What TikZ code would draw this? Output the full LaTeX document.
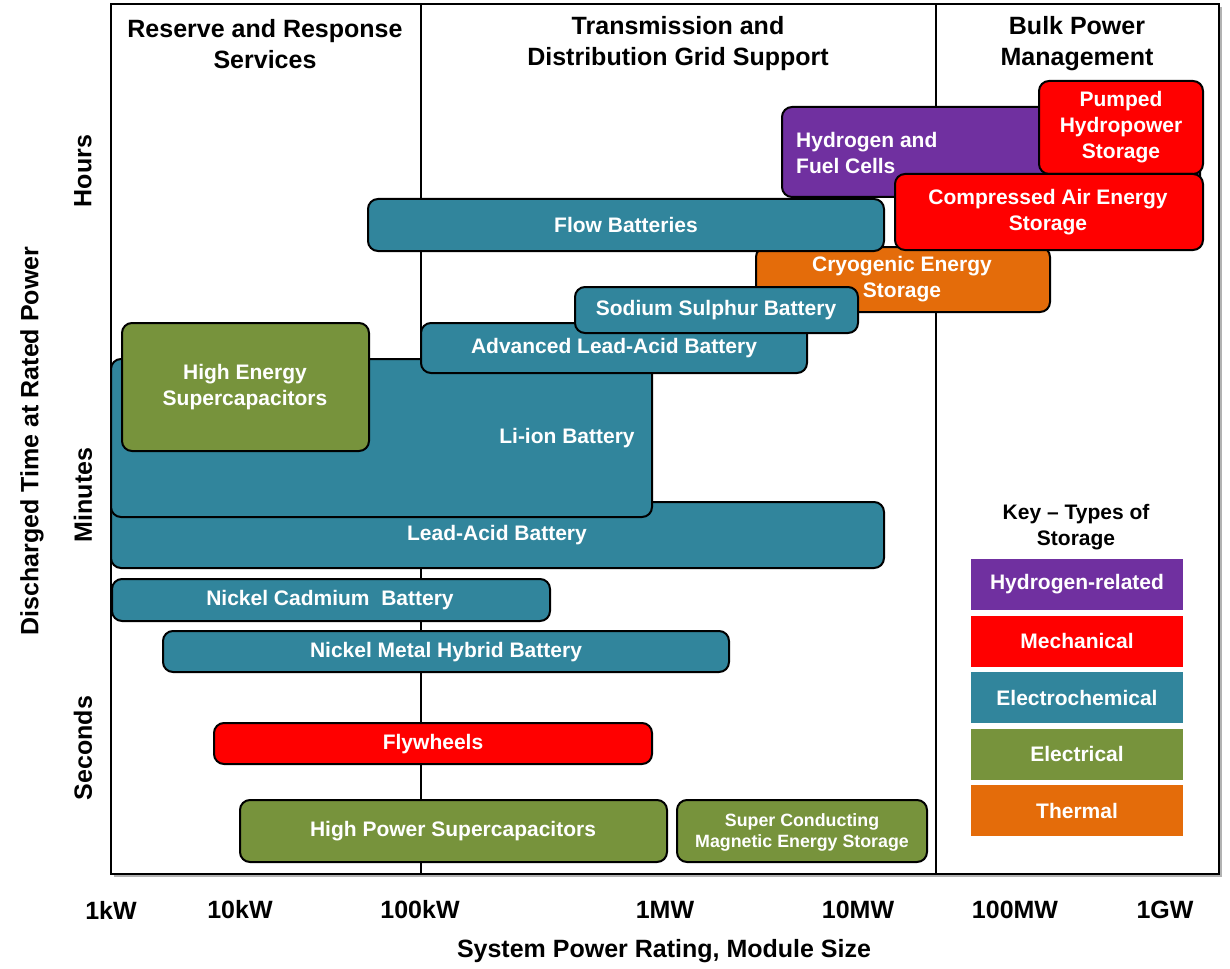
\documentclass[tikz,border=0pt]{standalone}
\usepackage{fontspec}
\setmainfont{Liberation Sans}
\definecolor{hydro}{HTML}{7030A0}
\definecolor{mech}{HTML}{FF0000}
\definecolor{echem}{HTML}{31859C}
\definecolor{elec}{HTML}{77933C}
\definecolor{therm}{HTML}{E46C0A}

\begin{document}
\begin{tikzpicture}[x=1pt,y=-1pt,
    stor/.style={draw=black, line width=2pt, rounded corners=10pt},
    lbl/.style={text=white, inner sep=0pt, align=center, font=\bfseries\fontsize{21}{26}\selectfont},
    head/.style={inner sep=0pt, align=center, font=\bfseries\fontsize{25}{31}\selectfont},
    keybox/.style={minimum width=212pt, minimum height=51pt, inner sep=0pt, text=white, font=\bfseries\fontsize{21}{26}\selectfont}]
    \useasboundingbox (0,0) rectangle (1230,968);
    % frame, shadow and dividers
    \draw[black!30, line width=2pt] (1221,7) -- (1221,876) -- (114,876);
    \draw[line width=2pt] (111,4) rectangle (1219,874);
    \draw[line width=2pt] (421,4) -- (421,874);
    \draw[line width=2pt] (936,4) -- (936,874);
    \node[head] (reserve) at (265,44) {Reserve and Response\\Services};
    \node[head] (grid) at (678,44) {Transmission and\\Distribution Grid Support};
    \node[head] (bulk) at (1077,44) {Bulk Power\\Management};
    % axes
    \foreach \x/\t [count=\i] in {111/1kW,240/10kW,420/100kW,665/1MW,858/10MW,1015/100MW,1165/1GW}
      \node[head] (tick\i) at (\x,910) {\t};
    \node[head] (xlabel) at (664,951) {System Power Rating, Module Size};
    \node[head, rotate=90] (ylabel) at (32,441) {Discharged Time at Rated Power};
    \node[head, rotate=90] (hours) at (83,171) {Hours};
    \node[head, rotate=90] (minutes) at (83,495) {Minutes};
    \node[head, rotate=90] (seconds) at (83,748) {Seconds};
    % storage technologies
    \draw[stor, fill=echem] (111,502) rectangle (884,568);
    \node[lbl] (leadacid) at (497,535) {Lead-Acid Battery};
    \draw[stor, fill=echem] (111,359) rectangle (652,517);
    \node[lbl] (liion) at (567,438) {Li-ion Battery};
    \draw[stor, fill=elec] (122,323) rectangle (369,451);
    \node[lbl] (hesc) at (245,387) {High Energy\\Supercapacitors};
    \draw[stor, fill=echem] (421,323) rectangle (807,373);
    \node[lbl] (advlead) at (614,348) {Advanced Lead-Acid Battery};
    \draw[stor, fill=therm] (756,247) rectangle (1050,312);
    \node[lbl] (cryo) at (902,279) {Cryogenic Energy\\Storage};
    \draw[stor, fill=echem] (575,287) rectangle (858,333);
    \node[lbl] (nas) at (716,310) {Sodium Sulphur Battery};
    \draw[stor, fill=echem] (368,199) rectangle (884,251);
    \node[lbl] (flow) at (626,225) {Flow Batteries};
    \draw[stor, fill=hydro] (782,107) rectangle (1200,197);
    \node[lbl, align=left, anchor=west] (fuelcell) at (796,153) {Hydrogen and\\Fuel Cells};
    \draw[stor, fill=mech] (1039,81) rectangle (1203,174);
    \node[lbl] (pumped) at (1121,127) {Pumped\\Hydropower\\Storage};
    \draw[stor, fill=mech] (895,174) rectangle (1203,250);
    \node[lbl] (caes) at (1048,212) {Compressed Air Energy\\Storage};
    \draw[stor, fill=echem] (112,579) rectangle (550,621);
    \node[lbl] (nicd) at (330,600) {Nickel Cadmium\ \ Battery};
    \draw[stor, fill=echem] (163,631) rectangle (729,672);
    \node[lbl] (nimh) at (446,652) {Nickel Metal Hybrid Battery};
    \draw[stor, fill=mech] (214,723) rectangle (652,764);
    \node[lbl] (flywheel) at (433,744) {Flywheels};
    \draw[stor, fill=elec] (240,800) rectangle (667,862);
    \node[lbl] (hpsc) at (453,831) {High Power Supercapacitors};
    \draw[stor, fill=elec] (677,800) rectangle (927,862);
    \node[lbl, font=\bfseries\fontsize{17.8}{21}\selectfont] (smes) at (802,832) {Super Conducting\\Magnetic Energy Storage};
    % key
    \node[inner sep=0pt, align=center, font=\bfseries\fontsize{21}{26}\selectfont] (keytitle) at (1076,527) {Key – Types of\\Storage};
    \foreach \y/\c/\t [count=\i] in {584.5/hydro/Hydrogen-related,641/mech/Mechanical,697.5/echem/Electrochemical,754/elec/Electrical,810.5/therm/Thermal}
      \node[keybox, fill=\c] (key\i) at (1077,\y) {\t};
\end{tikzpicture}
\end{document}
